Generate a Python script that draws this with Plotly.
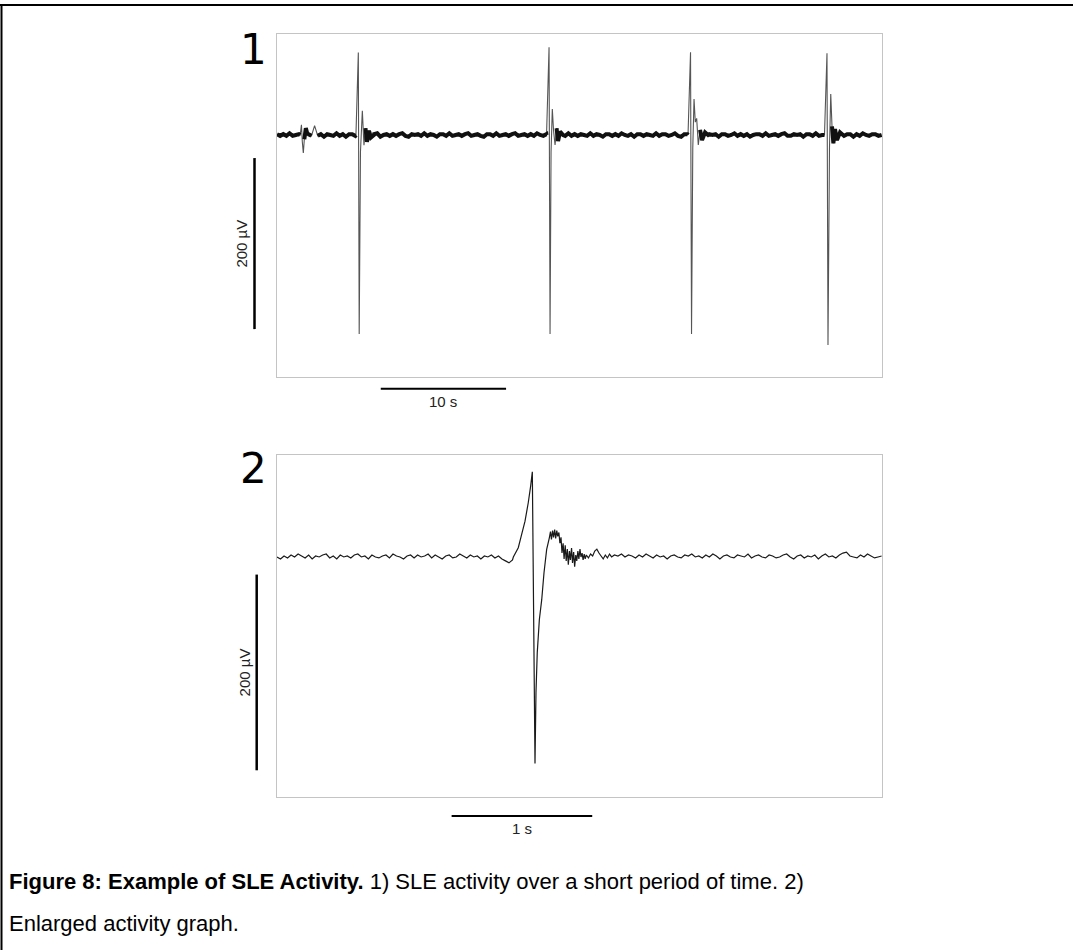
import plotly.graph_objects as go

# ---------------- DATA ----------------
# Panel 1: SLE activity over ~48 s (time in s, potential in µV)
P1_DT = 0.25  # baseline sample spacing (s), starting at t = 0
p1_baseline = [
    1, -1, 1, -1, 2, -1, 0, 1, -2, 1, 1, -1, 11, -1, 1, -2, 1, 0, -1, 2,
    -1, 1, -2, 1, 1, -1, 0, 2, -1, 1, -1, 1, 2, -2, 0, 1, -1, 1, -1, 1,
    2, -1, -2, 1, 0, 1, -1, 2, -1, 1, 0, -2, 1, 1, -1, 2, -1, 0, 1, -1,
    1, 2, -1, 0, 1, -1, -2, 1, 1, -1, 2, -1, 0, 1, -1, 1, 2, -1, 0, 1,
    -1, 1, -1, 2, 0, -1, 1, 1, -2, 1, 0, 1, -1, 2, -1, 1, -1, 1, 0, -1,
    2, -1, 1, 0, -2, 1, 1, -1, 1, -1, 2, 0, -1, 1, -2, 1, 1, -1, 1, 0,
    -1, 2, -1, 1, 1, -1, 0, 2, -1, -2, 1, 1, -1, 0, 1, -1, 2, -1, 1, 0,
    1, -2, 1, 1, -1, 0, 2, -1, 1, -1, 1, -2, 0, 1, 1, -1, 2, -1, 0, 1,
    -1, 1, 2, -1, -1, 1, 0, 1, -2, 1, 1, -1, 2, -1, 0, 1, -1, 1, -1, 2,
    0, -1, 1, 1, -2, 1, -1, 2, 0, -1, 1, 1, -1, 0,
]
p1_small_t = [1.85, 1.95, 2.02, 2.10, 2.18, 2.30, 2.45]
p1_small_v = [0, 12, -8, -21, -5, 8, 0]
p1_spk1_t = [6.30, 6.49, 6.56, 6.66, 6.81, 6.94, 7.06, 7.18, 7.34, 7.50, 7.74]
p1_spk1_v = [0, 96.5, -232.7, -20, 28.4, -12, 8, -8, 5, -3, 0]
p1_spk2_t = [21.51, 21.71, 21.79, 21.87, 21.97, 22.07, 22.19, 22.31, 22.43, 22.59, 22.83]
p1_spk2_v = [0, 102.6, -232.7, -20, 30.4, 5, -11.7, 8, -7, 4, 0]
p1_spk3_t = [32.80, 33.00, 33.08, 33.18, 33.28, 33.38, 33.49, 33.62, 33.76, 33.92, 34.16, 34.40]
p1_spk3_v = [0, 96.7, -232.7, -15, 42, 15, 19.5, -11.7, 6, -6, 3, 0]
p1_spk4_t = [43.69, 43.89, 43.97, 44.09, 44.19, 44.29, 44.40, 44.53, 44.69, 44.93, 45.17]
p1_spk4_v = [0, 95.6, -245.6, -15, 48, 10, -9.7, 7, -6, 3, 0]

# Panel 2: enlarged single event over ~4.3 s
P2_DT = 0.025
p2_baseline = [
    0, -2, 1, -1, 2, 0, 3, 1, -1, 2, -2, 1, 0, 2, 3, -1, 1, -2, 2, 0,
    1, -1, 2, 3, 0, 1, -2, 2, 0, -1, 1, 2, -1, 3, 1, 0, -2, 1, 2, -1,
    2, 0, 1, 3, -1, 2, 0, -2, 1, 2, -1, 0, 3, 1, -1, 2, 0, 1, -2, 1,
    0, 2, -1, 1, -2, -4, -6, -3, None, None, None, None, None, None, None, None, None, None, None, None,
    None, None, None, None, None, None, None, None, None, None, None, None, None, None, None, None, 2, 1, 3, 0,
    2, 1, -1, 2, 0, 3, 1, -1, 2, 0, 1, -2, 1, 2, 0, -1, 2, 1, 3, 0,
    1, -1, 2, 0, 3, 1, -2, 1, 2, 0, -1, 2, 1, 0, 3, -1, 1, 2, 0, -1,
    2, 1, -1, 0, 2, 3, 0, -2, 1, 2, -1, 1, 0, 2, -2, 1, 3, 0, 1, -1,
    2, 4, 5, 1, 0, -1, 2, 0, 3, 1, -1, 0, 1,
]
p2_event_t = [
    1.681, 1.716, 1.737, 1.764, 1.787, 1.804, 1.816, 1.835, 1.842, 1.851,
    1.866, 1.883, 1.899, 1.918, 1.937, 1.945, 1.952, 1.960, 1.967, 1.975,
    1.982, 1.990, 1.997, 2.005, 2.012, 2.020, 2.027, 2.035, 2.042, 2.050,
    2.057, 2.065, 2.072, 2.080, 2.087, 2.095, 2.102, 2.110, 2.117, 2.125,
    2.132, 2.140, 2.147, 2.155, 2.162, 2.170, 2.177, 2.185, 2.192, 2.200,
    2.215, 2.230, 2.245, 2.260, 2.275, 2.290, 2.305, 2.320, 2.335, 2.350,
    2.365, 2.380,
]
p2_event_v = [
    0, 9.4, 21.3, 36.6, 55.4, 72.4, 87.1, -211, -138.8, -97.9,
    -63.9, -43.4, -16.1, 7.7, 19.6, 26, 18, 27, 20, 28,
    19, 27, 21, 25, 14, 20, 4, 14, -2, 12,
    -4, 8, -8, 6, -3, 9, -6, 5, -10, 2,
    -4, 6, -2, 8, 0, 4, -3, 3, -2, 2,
    -1, 3, 1, 6, 8, 4, 1, -2, 2, -1,
    3, 0,
]

# Scale bars
P1_BAR_UV, P1_BAR_S = 200, 10
P2_BAR_UV, P2_BAR_S = 200, 1


def merge(dt, base, events):
    windows = [(min(t), max(t)) for t, _ in events]
    pts = []
    for i, v in enumerate(base):
        t = i * dt
        if v is None or any(a <= t <= b for a, b in windows):
            continue
        pts.append((t, v))
    for et, ev in events:
        pts.extend(zip(et, ev))
    pts.sort()
    return [p[0] for p in pts], [p[1] for p in pts]


p1_t, p1_v = merge(P1_DT, p1_baseline, [
    (p1_small_t, p1_small_v), (p1_spk1_t, p1_spk1_v), (p1_spk2_t, p1_spk2_v),
    (p1_spk3_t, p1_spk3_v), (p1_spk4_t, p1_spk4_v)])
p2_t, p2_v = merge(P2_DT, p2_baseline, [(p2_event_t, p2_event_v)])

# thick "noise band" only where the trace stays near baseline
band_v = [v if abs(v) <= 10 else None for v in p1_v]

W, H = 1073, 950
px = lambda x: x / W
py = lambda y: 1 - y / H

fig = go.Figure()
fig.add_trace(go.Scatter(x=p1_t, y=p1_v, mode="lines", xaxis="x", yaxis="y",
                         line=dict(color="#555555", width=1.1, simplify=False),
                         hoverinfo="skip"))
fig.add_trace(go.Scatter(x=p1_t, y=band_v, mode="lines", xaxis="x", yaxis="y",
                         line=dict(color="#111111", width=4, simplify=False),
                         connectgaps=False, hoverinfo="skip"))
fig.add_trace(go.Scatter(x=p2_t, y=p2_v, mode="lines", xaxis="x2", yaxis="y2",
                         line=dict(color="#1a1a1a", width=1.2, simplify=False),
                         hoverinfo="skip"))

ax = dict(showline=True, mirror=True, linecolor="#c4c4c4", linewidth=1,
          showticklabels=False, ticks="", showgrid=False, zeroline=False,
          fixedrange=True)
fig.update_layout(
    width=W, height=H, margin=dict(l=0, r=0, t=0, b=0),
    paper_bgcolor="white", plot_bgcolor="white", showlegend=False,
    xaxis=dict(ax, domain=[px(277), px(882)], range=[0, 48.28], anchor="y"),
    yaxis=dict(ax, domain=[py(377), py(34)], range=[-283, 118.1], anchor="x"),
    xaxis2=dict(ax, domain=[px(277), px(882)], range=[0, 4.303], anchor="y2"),
    yaxis2=dict(ax, domain=[py(797), py(455)], range=[-245.3, 104.2], anchor="x2"),
)

shapes = [
    # page frame
    dict(type="line", xref="paper", yref="paper", x0=0, x1=1, y0=py(5), y1=py(5),
         line=dict(color="black", width=2)),
    dict(type="line", xref="paper", yref="paper", x0=px(1.5), x1=px(1.5), y0=py(5), y1=0,
         line=dict(color="black", width=2)),
    # panel 1 scale bars
    dict(type="line", xref="paper", yref="y", x0=px(254.5), x1=px(254.5),
         y0=-27, y1=-27 - P1_BAR_UV, line=dict(color="black", width=2.5)),
    dict(type="line", xref="x", yref="paper", x0=8.28, x1=8.28 + P1_BAR_S,
         y0=py(388.7), y1=py(388.7), line=dict(color="black", width=2)),
    # panel 2 scale bars
    dict(type="line", xref="paper", yref="y2", x0=px(256.7), x1=px(256.7),
         y0=-18, y1=-18 - P2_BAR_UV, line=dict(color="black", width=2.5)),
    dict(type="line", xref="x2", yref="paper", x0=1.242, x1=1.242 + P2_BAR_S,
         y0=py(816), y1=py(816), line=dict(color="black", width=2)),
]
fig.update_layout(shapes=shapes)

lab = dict(family="Liberation Sans, Arial, sans-serif", size=15, color="#222222")
cap = dict(family="Liberation Sans, Arial, sans-serif", size=22, color="black")
ann = [
    dict(text="1", xref="paper", yref="paper", x=px(269), y=py(49), xanchor="right",
         yanchor="middle", showarrow=False,
         font=dict(family="DejaVu Sans", size=42, color="black")),
    dict(text="2", xref="paper", yref="paper", x=px(269), y=py(469), xanchor="right",
         yanchor="middle", showarrow=False,
         font=dict(family="DejaVu Sans", size=42, color="black")),
    dict(text="200 µV", xref="paper", yref="y", x=px(242), y=-27 - P1_BAR_UV / 2,
         textangle=-90, showarrow=False, font=lab, xanchor="center", yanchor="middle"),
    dict(text="10 s", xref="x", yref="paper", x=8.28 + P1_BAR_S / 2, y=py(401.5),
         showarrow=False, font=lab, xanchor="center", yanchor="middle"),
    dict(text="200 µV", xref="paper", yref="y2", x=px(244), y=-18 - P2_BAR_UV / 2,
         textangle=-90, showarrow=False, font=lab, xanchor="center", yanchor="middle"),
    dict(text="1 s", xref="x2", yref="paper", x=1.242 + P2_BAR_S / 2, y=py(828),
         showarrow=False, font=lab, xanchor="center", yanchor="middle"),
    dict(text="<b>Figure 8: Example of SLE Activity.</b> 1) SLE activity over a short period of time. 2)",
         xref="paper", yref="paper", x=px(7), y=py(881), xanchor="left", yanchor="middle",
         showarrow=False, font=cap),
    dict(text="Enlarged activity graph.",
         xref="paper", yref="paper", x=px(7), y=py(923), xanchor="left", yanchor="middle",
         showarrow=False, font=cap),
]
fig.update_layout(annotations=ann)

fig.write_html("out.html")
